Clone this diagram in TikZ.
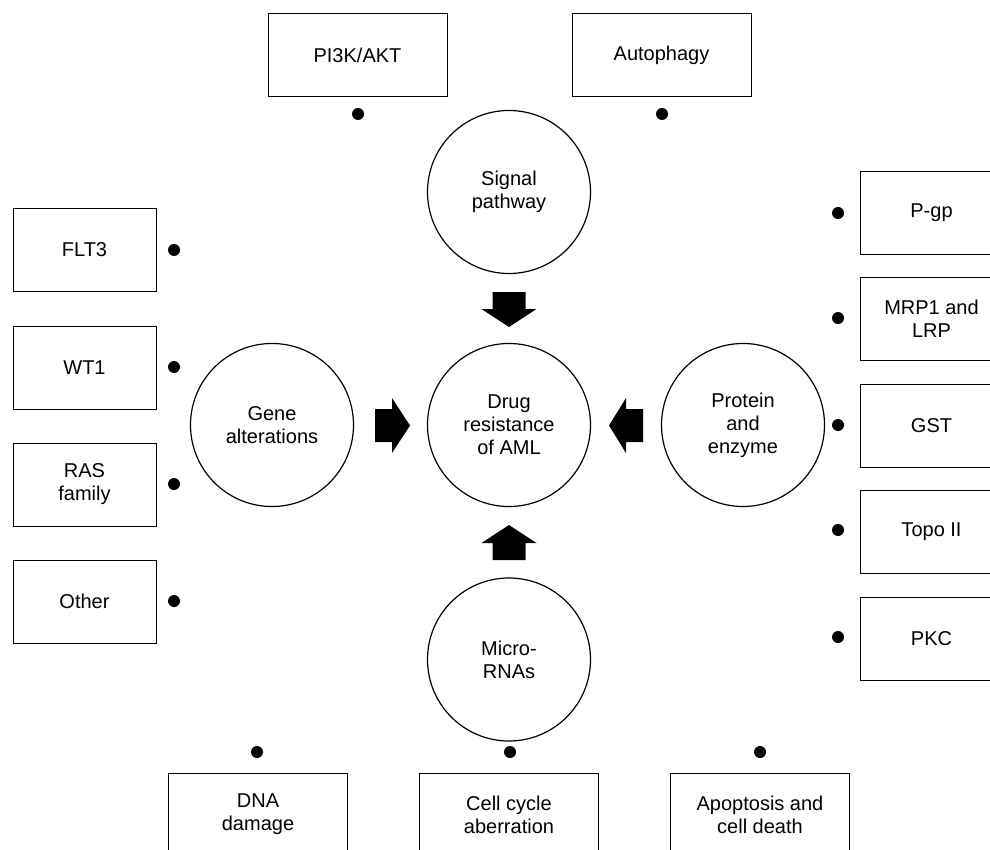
\documentclass[tikz,border=0pt]{standalone}
\usepackage{fontspec}
\setmainfont{Liberation Sans}
\begin{document}
\begin{tikzpicture}[x=1pt,y=-1pt,
  every node/.style={font=\fontsize{20}{23}\selectfont, align=center, text=black},
  tbox/.style={draw=black, line width=1pt, rectangle, inner sep=0pt, minimum width=179pt, minimum height=83pt},
  sbox/.style={draw=black, line width=1pt, rectangle, inner sep=0pt, minimum width=143pt, minimum height=83pt},
  ring/.style={draw=black, line width=1.2pt, circle, inner sep=0pt, minimum size=163pt},
  dot/.style={circle, fill=black, inner sep=0pt, minimum size=12pt},
  blk/.style={fill=black}]
\useasboundingbox (0,0) rectangle (990,850);
\clip (0,0) rectangle (990,850);
% top boxes
\node[tbox] (pi3k) at (357.5,55.5) {PI3K/AKT};
\node[tbox] (auto) at (661.5,55.5) {Autophagy};
\node[dot] (dpi3k) at (358,114) {};
\node[dot] (dauto) at (662,114) {};
% left boxes
\node[sbox] (flt3) at (84.5,250) {FLT3};
\node[sbox] (wt1) at (84.5,367.5) {WT1};
\node[sbox] (ras) at (84.5,484.5) {RAS\\family};
\node[sbox] (other) at (84.5,601.5) {Other};
\node[dot] (dflt3) at (174,250) {};
\node[dot] (dwt1) at (174,367) {};
\node[dot] (dras) at (174,484) {};
\node[dot] (dother) at (174,601) {};
% right boxes
\node[sbox] (pgp) at (931.5,213) {P-gp};
\node[sbox] (mrp) at (931.5,319) {MRP1 and\\LRP};
\node[sbox] (gst) at (931.5,425.5) {GST};
\node[sbox] (topo) at (931.5,531.5) {Topo II};
\node[sbox] (pkc) at (931.5,638.5) {PKC};
\node[dot] (dpgp) at (838,213) {};
\node[dot] (dmrp) at (838,318) {};
\node[dot] (dgst) at (838,425) {};
\node[dot] (dtopo) at (838,530) {};
\node[dot] (dpkc) at (838,637) {};
% bottom boxes
\node[tbox] (dna) at (258,814.5) {DNA\\damage};
\node[tbox] (cell) at (509,814.5) {Cell cycle\\aberration};
\node[tbox] (apop) at (760,814.5) {Apoptosis and\\cell death};
\node[dot] (ddna) at (257,752) {};
\node[dot] (dcell) at (510,752) {};
\node[dot] (dapop) at (760,752) {};
% circles
\node[ring] (drug) at (509,425) {Drug\\resistance\\of AML};
\node[ring] (sig) at (509,192) {Signal\\pathway};
\node[ring] (gene) at (272,425) {Gene\\alterations};
\node[ring] (prot) at (743,425) {Protein\\and\\enzyme};
\node[ring] (micro) at (509,659.5) {Micro-\\RNAs};
% block arrows
\fill[blk] (509,327) -- (481.5,309) -- (492.5,309) -- (492.5,292) -- (525.5,292) -- (525.5,309) -- (536.5,309) -- cycle;
\fill[blk] (509,525) -- (481.5,543) -- (492.5,543) -- (492.5,560) -- (525.5,560) -- (525.5,543) -- (536.5,543) -- cycle;
\fill[blk] (410,425.5) -- (392,398) -- (392,409) -- (375,409) -- (375,442) -- (392,442) -- (392,453) -- cycle;
\fill[blk] (609,425.5) -- (626,398) -- (626,409) -- (643,409) -- (643,442) -- (626,442) -- (626,453) -- cycle;
\end{tikzpicture}
\end{document}
